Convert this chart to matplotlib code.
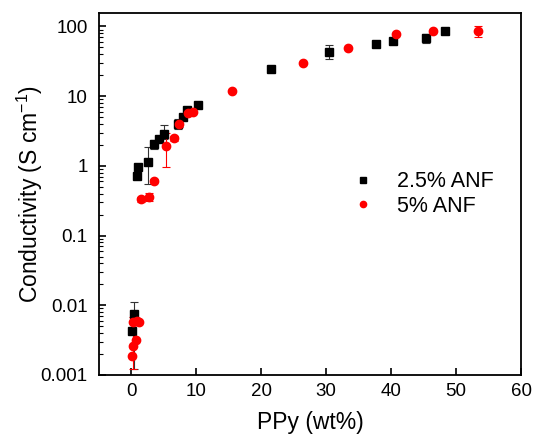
import numpy as np
import matplotlib.pyplot as plt
from matplotlib.ticker import LogLocator, NullFormatter

plt.rcParams['font.family'] = ['Liberation Sans', 'DejaVu Sans']

# 2.5% ANF
x_25 = [0.1, 0.4, 0.9, 1.1, 2.6, 3.5, 4.3, 5.1, 7.2, 8.0, 8.6, 10.3, 21.5, 30.5, 37.7, 40.2, 45.4, 48.3]
y_25 = [0.0042, 0.0076, 0.72, 0.97, 1.14, 2.07, 2.4, 2.9, 4.0, 5.0, 6.3, 7.5, 24.5, 43, 56, 62, 68, 86]
err_25_lo = [0.0, 0.0064, 0.0, 0.0, 0.6, 0.3, 0.2, 0.5, 0.6, 0.5, 0.0, 0.0, 0.0, 9, 4, 0.0, 10, 5]
err_25_hi = [0.0, 0.0034, 0.0, 0.0, 0.75, 0.3, 0.2, 0.9, 0.7, 0.5, 0.0, 0.0, 0.0, 11, 4, 0.0, 10, 5]

# 5% ANF
x_5 = [0.1, 0.3, 0.8, 0.3, 1.2, 0.9, 1.5, 2.8, 3.5, 5.4, 6.5, 7.4, 8.8, 9.5, 15.5, 26.5, 33.4, 40.8, 46.5, 53.4]
y_5 = [0.0019, 0.0026, 0.0032, 0.0058, 0.0058, 0.006, 0.33, 0.36, 0.61, 1.9, 2.5, 4.0, 5.7, 5.9, 11.9, 29.9, 49, 78, 86, 86]
err_5_lo = [0.0, 0.0, 0.0, 0.0046, 0.0, 0.0, 0.03, 0.05, 0.03, 0.95, 0.2, 0.4, 0.3, 0.0, 0.0, 0.0, 0.0, 0.0, 0.0, 16]
err_5_hi = [0.0, 0.0, 0.0, 0.001, 0.0, 0.0, 0.03, 0.05, 0.03, 1.1, 0.2, 0.4, 0.3, 0.0, 0.0, 0.0, 0.0, 0.0, 0.0, 14]

fig = plt.figure(figsize=(5.34, 4.37), dpi=100)
ax = fig.add_axes([0.185, 0.142, 0.791, 0.828])

e1 = ax.errorbar(x_25, y_25, yerr=[err_25_lo, err_25_hi], fmt='s', color='black', ms=6,
                 ecolor='#333333', elinewidth=0.8, capsize=3, capthick=0.8)
e2 = ax.errorbar(x_5, y_5, yerr=[err_5_lo, err_5_hi], fmt='o', color='red', ms=6,
                 ecolor='red', elinewidth=0.8, capsize=3, capthick=0.8)

ax.set_yscale('log')
ax.set_xlim(-5, 60)
ax.set_ylim(0.001, 155)
ax.set_xticks([0, 10, 20, 30, 40, 50, 60])
ax.set_yticks([0.001, 0.01, 0.1, 1, 10, 100])
ax.set_yticklabels(['0.001', '0.01', '0.1', '1', '10', '100'])
ax.yaxis.set_minor_locator(LogLocator(base=10, subs=np.arange(2, 10), numticks=20))
ax.yaxis.set_minor_formatter(NullFormatter())

ax.tick_params(axis='both', which='major', direction='in', length=5, width=1.2, labelsize=13.5)
ax.tick_params(axis='x', which='major', pad=6)
ax.tick_params(axis='y', which='major', pad=8)
ax.tick_params(axis='y', which='minor', direction='in', length=3, width=0.8)
ax.tick_params(top=False, right=False)
for s in ax.spines.values():
    s.set_linewidth(1.3)

ax.set_xlabel('PPy (wt%)', fontsize=16.5, labelpad=8)
ax.set_ylabel('Conductivity (S cm$^{\\mathregular{-1}}$)', fontsize=16.5, labelpad=-3)

ax.legend([e1[0], e2[0]], ['2.5% ANF', '5% ANF'], loc='center left', bbox_to_anchor=(0.542, 0.5),
          frameon=False, fontsize=15.5, markerscale=0.75, handletextpad=0.8, handlelength=1.5,
          labelspacing=0.15)

fig.savefig('out.png', dpi=100)
